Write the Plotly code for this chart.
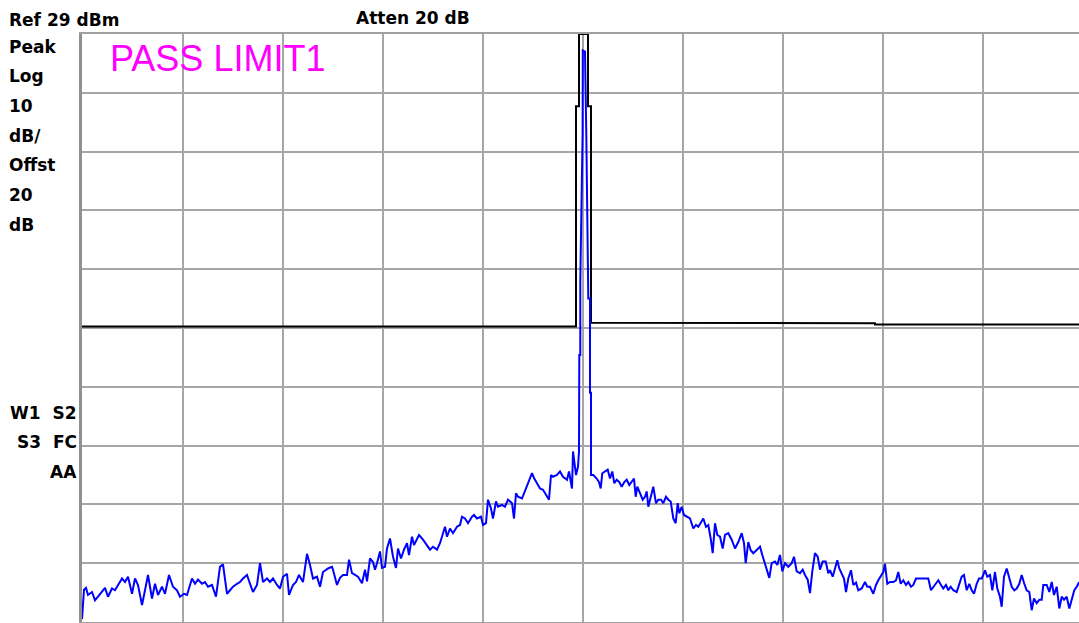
import plotly.graph_objects as go

# Spectrum trace: frequency offset from centre (divisions) and level (dBm)
trace_offset = [
    -5.01, -4.99, -4.97, -4.95, -4.91, -4.88, -4.85, -4.81, -4.78, -4.75, -4.71, -4.68, -4.65, -4.61,
    -4.58, -4.55, -4.51, -4.48, -4.45, -4.41, -4.38, -4.35, -4.31, -4.28, -4.25, -4.21, -4.18,
    -4.14, -4.10, -4.06, -4.03, -3.99, -3.96, -3.91, -3.88, -3.85, -3.81, -3.78, -3.75, -3.71,
    -3.67, -3.63, -3.60, -3.56, -3.53, -3.50, -3.46, -3.43, -3.40, -3.36, -3.33, -3.30, -3.26,
    -3.23, -3.20, -3.16, -3.13, -3.10, -3.06, -3.03, -3.00, -2.96, -2.94, -2.90, -2.87, -2.84,
    -2.80, -2.76, -2.73, -2.70, -2.66, -2.63, -2.60, -2.55, -2.51,
    -2.50, -2.46, -2.43, -2.40, -2.36, -2.34, -2.31, -2.28, -2.25, -2.21, -2.18, -2.16, -2.13,
    -2.10, -2.08, -2.06, -2.03, -2.01, -1.98, -1.96, -1.93, -1.90, -1.87, -1.85, -1.82, -1.79,
    -1.76, -1.74, -1.71, -1.69, -1.66, -1.64, -1.60, -1.56, -1.53, -1.50, -1.46, -1.43, -1.40,
    -1.38, -1.36, -1.33, -1.30, -1.26, -1.23, -1.21, -1.18, -1.15, -1.11, -1.09, -1.06, -1.02,
    -1.00, -0.97, -0.95, -0.92, -0.90, -0.87, -0.85, -0.81, -0.78, -0.75, -0.71, -0.69, -0.67,
    -0.65, -0.61, -0.58, -0.55, -0.51, -0.49, -0.46, -0.43, -0.40, -0.36, -0.34, -0.32, -0.30,
    -0.26, -0.23, -0.20, -0.16, -0.14, -0.11, -0.10, -0.07, -0.05, -0.04,
    -0.037, -0.027, -0.027, -0.004, -0.002, 0.020, 0.033, 0.053, 0.053, 0.070, 0.070, 0.080, 0.080,
    0.103, 0.137, 0.160, 0.177, 0.193, 0.220, 0.247, 0.270, 0.293, 0.313, 0.337, 0.363, 0.387,
    0.413, 0.437, 0.463, 0.487, 0.510, 0.527, 0.543, 0.570, 0.597, 0.620, 0.637, 0.653, 0.677,
    0.703, 0.730, 0.753, 0.780, 0.803, 0.830, 0.853, 0.877, 0.903, 0.927, 0.947, 0.963, 0.987,
    1.010, 1.037, 1.070, 1.103, 1.130, 1.153, 1.177, 1.203, 1.230, 1.253, 1.277, 1.297, 1.320,
    1.343, 1.370, 1.397, 1.420, 1.453, 1.487, 1.520, 1.553, 1.587, 1.610, 1.627, 1.653, 1.677,
    1.703, 1.737, 1.770, 1.793, 1.820, 1.843, 1.863, 1.887, 1.920, 1.943, 1.970, 1.993, 2.020,
    2.053, 2.087, 2.110, 2.137, 2.170, 2.197, 2.220, 2.247, 2.270, 2.293, 2.320, 2.347, 2.370,
    2.397, 2.427, 2.453,
    2.470, 2.497, 2.520, 2.543, 2.563, 2.587, 2.610, 2.630, 2.653, 2.680, 2.703, 2.730, 2.753,
    2.787, 2.820, 2.843, 2.870, 2.903, 2.930, 2.953, 2.977, 3.003, 3.020, 3.043, 3.070, 3.103,
    3.130, 3.153, 3.177, 3.203, 3.230, 3.253, 3.280, 3.303, 3.330, 3.353, 3.387, 3.420, 3.453,
    3.480, 3.503, 3.530, 3.553, 3.580, 3.603, 3.630, 3.653, 3.677, 3.703, 3.737, 3.763, 3.787,
    3.810, 3.837, 3.863, 3.887, 3.910, 3.937, 3.960, 3.987, 4.003, 4.020, 4.043, 4.070, 4.093,
    4.120, 4.143, 4.170, 4.187, 4.210, 4.237, 4.263, 4.287, 4.313, 4.337, 4.363, 4.387, 4.413,
    4.437, 4.463, 4.487, 4.510, 4.537, 4.563, 4.587, 4.603, 4.637, 4.663, 4.687, 4.710, 4.737,
    4.763, 4.787, 4.810, 4.837, 4.863, 4.887, 4.913, 4.937, 4.963,
]
trace_dbm = [
    -70.5, -65.5, -65.2, -66.4, -65.9, -67.3, -66.7, -65.9, -65.2, -66.7, -65.3, -65.6, -64.7, -63.6,
    -64.2, -63.3, -66.2, -63.6, -64.7, -68.1, -65.6, -63.0, -67.0, -64.5, -66.4, -65.0, -66.2,
    -63.0, -65.0, -65.6, -66.7, -66.2, -66.4, -63.6, -64.5, -63.8, -64.5, -64.2, -65.0, -64.7,
    -66.7, -61.6, -61.2, -66.2, -65.6, -65.0, -64.5, -64.2, -63.6, -63.0, -64.5, -65.9, -64.7,
    -61.0, -64.2, -63.6, -64.2, -63.6, -64.7, -65.3, -63.3, -62.8, -66.4, -64.7, -64.2, -63.0,
    -64.2, -59.4, -61.3, -63.6, -63.3, -65.0, -62.5, -61.9, -61.6,
    -62.1, -64.7, -63.5, -63.0, -63.0, -60.4, -62.7, -63.0, -63.3, -64.4, -62.1, -64.1, -60.2,
    -60.8, -62.1, -61.0, -59.0, -61.8, -61.6, -58.5, -56.8, -59.9, -61.8, -58.5, -60.2, -58.7,
    -57.6, -59.6, -56.5, -57.9, -56.8, -56.2, -57.0, -57.9, -58.7, -58.2, -58.7, -57.6, -55.9,
    -54.8, -56.5, -55.1, -55.9, -54.8, -54.5, -53.1, -53.4, -54.2, -53.1, -52.8, -53.4, -53.1,
    -54.5, -54.2, -50.2, -51.7, -53.4, -50.5, -51.4, -51.1, -51.4, -50.2, -50.8, -53.4, -49.1,
    -49.7, -50.0, -48.8, -47.4, -45.7, -46.5, -47.4, -48.3, -48.5, -49.7, -50.2, -46.0, -46.3,
    -46.0, -45.4, -46.3, -46.8, -45.4, -48.3, -42.0, -46.0, -44.6, -42.0,
    -25.6, -25.6, -13.0, 12.0, 26.2, 26.0, 12.0, -13.0, -16.0, -16.0, -32.0, -32.0, -46.0,
    -46.0, -46.6, -47.2, -48.3, -45.7, -45.4, -45.1, -46.6, -45.4, -47.4, -46.8, -47.2, -48.0,
    -47.2, -46.8, -47.7, -47.2, -46.6, -49.7, -48.0, -49.1, -50.2, -49.7, -48.8, -51.4, -49.7,
    -48.0, -50.8, -50.2, -50.2, -50.8, -49.7, -50.2, -50.5, -53.4, -54.2, -50.8, -52.5, -51.4,
    -52.8, -53.1, -53.4, -55.1, -54.5, -54.8, -54.2, -53.4, -54.8, -54.5, -56.8, -59.3, -54.2,
    -56.2, -56.5, -58.5, -56.2, -55.9, -57.0, -58.5, -57.4, -55.9, -57.6, -61.0, -57.4, -58.8,
    -59.3, -58.8, -58.2, -59.6, -61.0, -62.4, -63.5, -61.0, -60.7, -61.3, -59.6, -62.4, -61.0,
    -61.6, -61.0, -59.9, -62.4, -62.7, -62.1, -63.0, -63.8, -66.1, -62.4, -59.3, -59.9, -62.1,
    -60.7, -60.7, -62.7,
    -62.2, -63.3, -61.9, -60.5, -61.9, -62.8, -63.6, -65.9, -63.6, -62.2, -64.7, -64.3, -65.6,
    -65.3, -64.2, -65.0, -65.0, -66.2, -64.7, -63.9, -63.3, -62.5, -61.1, -64.5, -64.2, -64.2,
    -63.9, -62.5, -64.5, -63.9, -64.7, -64.2, -65.0, -64.7, -63.6, -63.6, -63.6, -63.6, -63.6,
    -65.6, -65.0, -64.5, -63.9, -64.7, -65.3, -64.7, -65.6, -65.0, -65.6, -65.9, -64.5, -63.3,
    -63.0, -65.6, -64.5, -65.6, -66.2, -64.5, -63.6, -63.6, -63.0, -62.2, -63.3, -63.0, -65.6,
    -62.5, -65.3, -66.7, -68.4, -63.3, -61.9, -63.3, -65.0, -65.6, -65.3, -64.5, -63.0, -64.5,
    -65.6, -65.9, -69.0, -67.0, -67.8, -67.2, -67.2, -64.7, -64.7, -65.9, -64.2, -66.4, -65.0,
    -68.7, -66.7, -67.2, -66.7, -68.7, -67.0, -65.6, -65.0, -64.2,
]

# Limit line 1 (offset in divisions, level in dBm)
limit_offset = [-5.02, -0.07, -0.07, -0.04, -0.04, 0.05, 0.05, 0.08, 0.08, 1.37, 1.37, 2.92, 2.92, 4.97]
limit_dbm = [-20.75, -20.75, 16.7, 16.7, 29.0, 29.0, 16.7, 16.7, -20.1, -20.1, -20.2, -20.2, -20.4, -20.4]

# Display settings
ref_level = 29
db_per_div = 10
n_divs = 10
x_divisions = [-5, -4, -3, -2, -1, 0, 1, 2, 3, 4]

header_left = "Ref 29 dBm"
header_mid = "Atten 20 dB"
side_labels = ["Peak", "Log", "10", "dB/", "Offst", "20", "dB"]
status_labels = ["W1\u00a0\u00a0S2", "S3\u00a0\u00a0FC", "AA"]
verdict = "PASS LIMIT1"

W, H = 1079, 623
M_L, M_R, M_T, M_B = 82, 0, 34, 1
PW, PH = W - M_L - M_R, H - M_T - M_B


def px(x):
    return (x - M_L) / PW


def py(y):
    return (H - M_B - y) / PH


y_bottom = ref_level - db_per_div * n_divs
y_ticks = [ref_level - db_per_div * i for i in range(n_divs + 1)]

fig = go.Figure()
fig.add_trace(go.Scatter(
    x=limit_offset, y=limit_dbm, mode="lines",
    line=dict(color="#000000", width=2), hoverinfo="skip", showlegend=False,
))
fig.add_trace(go.Scatter(
    x=trace_offset, y=trace_dbm, mode="lines",
    line=dict(color="#0000ff", width=2), hoverinfo="skip", showlegend=False,
))

bold = dict(family="DejaVu Sans", size=17, color="#000000")
ann = []
ann.append(dict(text=f"<b>{header_left}</b>", x=px(8), y=py(19.5), xanchor="left", yanchor="middle", font=bold))
ann.append(dict(text=f"<b>{header_mid}</b>", x=px(355), y=py(18), xanchor="left", yanchor="middle", font=bold))
for i, s in enumerate(side_labels):
    ann.append(dict(text=f"<b>{s}</b>", x=px(8), y=py(46.5 + 29.7 * i), xanchor="left", yanchor="middle", font=bold))
for i, s in enumerate(status_labels):
    ann.append(dict(text=f"<b>{s}</b>", x=px(78), y=py(412.5 + 29.5 * i), xanchor="right", yanchor="middle", font=bold))
ann.append(dict(text=verdict, x=px(109), y=py(58.5), xanchor="left", yanchor="middle",
                font=dict(family="Liberation Sans", size=36, color="#ff00ff")))
for a in ann:
    a.update(xref="paper", yref="paper", showarrow=False, borderpad=0)

fig.update_layout(
    width=W, height=H,
    margin=dict(l=M_L, r=M_R, t=M_T, b=M_B, pad=0),
    paper_bgcolor="#ffffff", plot_bgcolor="#ffffff",
    annotations=ann,
    xaxis=dict(
        range=[-5.01, 4.96], tickvals=x_divisions, showticklabels=False, ticks="",
        showgrid=True, gridcolor="#a6a6a6", gridwidth=2, zeroline=False,
        showline=True, mirror=True, linecolor="#a0a0a0", linewidth=2, fixedrange=True,
    ),
    yaxis=dict(
        range=[y_bottom, ref_level], tickvals=y_ticks, showticklabels=False, ticks="",
        showgrid=True, gridcolor="#a6a6a6", gridwidth=2, zeroline=False,
        showline=True, linecolor="#909090", linewidth=3, fixedrange=True,
    ),
)

fig.write_html("out.html", config={"displayModeBar": False})
